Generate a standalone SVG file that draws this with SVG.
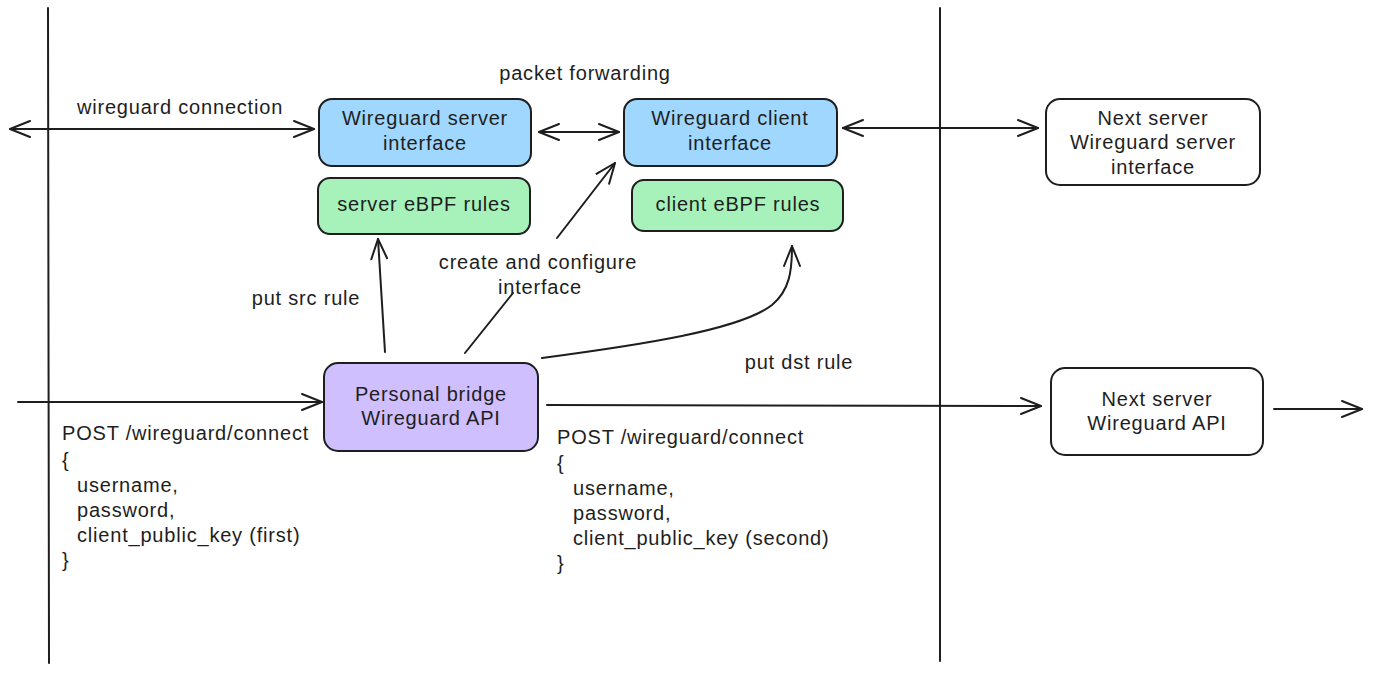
<svg xmlns="http://www.w3.org/2000/svg" width="1374" height="673" viewBox="0 0 1374 673">
<defs>
<marker id="ah" viewBox="0 0 22 18" refX="21" refY="9" markerWidth="22" markerHeight="18" markerUnits="userSpaceOnUse" orient="auto-start-reverse">
<path d="M1,1 L21,9 L1,17" fill="none" stroke="#1e1e1e" stroke-width="2" stroke-linecap="round" stroke-linejoin="round"/>
</marker>
</defs>
<style>
text{font-family:"Liberation Sans",Arial,sans-serif;font-size:20px;letter-spacing:0.8px;fill:#1e1e1e}
.c{text-anchor:middle}
.box{stroke:#1e1e1e;stroke-width:2}
.blue{fill:#9fd7ff}
.green{fill:#a6f2ba}
.violet{fill:#d0bfff}
.white{fill:#ffffff}
.ln{fill:none;stroke:#1e1e1e;stroke-width:2;stroke-linecap:round}
.arr{fill:none;stroke:#1e1e1e;stroke-width:2;stroke-linecap:round;marker-end:url(#ah)}
.arr2{fill:none;stroke:#1e1e1e;stroke-width:2;stroke-linecap:round;marker-start:url(#ah);marker-end:url(#ah)}
</style>
<rect width="1374" height="673" fill="#ffffff"/>
<g id="boundaries">
<line class="ln" x1="48" y1="8" x2="49" y2="663"/>
<line class="ln" x1="940" y1="8" x2="940" y2="661"/>
</g>
<g id="connectors">
<line class="arr2" x1="10" y1="129" x2="314" y2="129"/>
<line class="arr2" x1="539" y1="132" x2="619" y2="132"/>
<line class="arr2" x1="843" y1="128" x2="1038" y2="128"/>
<line class="arr" x1="385" y1="352" x2="378" y2="239"/>
<path class="ln" d="M465,353 L513,293"/>
<path class="arr" d="M557,238 L615,163"/>
<path class="arr" d="M542,358 C640,345 740,330 772,305 C790,290 792,270 792,246"/>
<line class="arr" x1="18" y1="402" x2="322" y2="402"/>
<line class="arr" x1="547" y1="405" x2="1041" y2="406"/>
<line class="arr" x1="1274" y1="409" x2="1362" y2="409"/>
</g>
<g id="wg-server">
<rect class="box blue" x="319" y="99" width="212" height="67" rx="13"/>
<text class="c" x="425" y="125">Wireguard server</text>
<text class="c" x="425" y="150">interface</text>
</g>
<g id="server-ebpf">
<rect class="box green" x="318" y="178" width="212" height="56" rx="12"/>
<text class="c" x="424" y="211">server eBPF rules</text>
</g>
<g id="wg-client">
<rect class="box blue" x="624" y="99" width="213" height="67" rx="13"/>
<text class="c" x="730" y="125">Wireguard client</text>
<text class="c" x="730" y="150">interface</text>
</g>
<g id="client-ebpf">
<rect class="box green" x="632" y="180" width="211" height="51" rx="12"/>
<text class="c" x="738" y="211">client eBPF rules</text>
</g>
<g id="next-wg">
<rect class="box white" x="1046" y="99" width="214" height="86" rx="14"/>
<text class="c" x="1153" y="125">Next server</text>
<text class="c" x="1153" y="149">Wireguard server</text>
<text class="c" x="1153" y="174">interface</text>
</g>
<g id="bridge-api">
<rect class="box violet" x="324" y="363" width="214" height="88" rx="14"/>
<text class="c" x="431" y="401">Personal bridge</text>
<text class="c" x="431" y="425">Wireguard API</text>
</g>
<g id="next-api">
<rect class="box white" x="1051" y="368" width="212" height="87" rx="14"/>
<text class="c" x="1157" y="406">Next server</text>
<text class="c" x="1157" y="430">Wireguard API</text>
</g>
<g id="labels">
<text class="c" x="585" y="80">packet forwarding</text>
<text class="c" x="180" y="114">wireguard connection</text>
<text class="c" x="306" y="305">put src rule</text>
<text class="c" x="538" y="269">create and configure</text>
<text class="c" x="540" y="294">interface</text>
<text class="c" x="799" y="369">put dst rule</text>
</g>
<g id="req-first">
<text x="62" y="440">POST /wireguard/connect</text>
<text x="62" y="467">{</text>
<text x="77" y="492">username,</text>
<text x="77" y="517">password,</text>
<text x="77" y="542">client_public_key (first)</text>
<text x="62" y="567">}</text>
</g>
<g id="req-second">
<text x="557" y="444">POST /wireguard/connect</text>
<text x="557" y="470">{</text>
<text x="573" y="495">username,</text>
<text x="573" y="520">password,</text>
<text x="573" y="545">client_public_key (second)</text>
<text x="557" y="570">}</text>
</g>
</svg>
